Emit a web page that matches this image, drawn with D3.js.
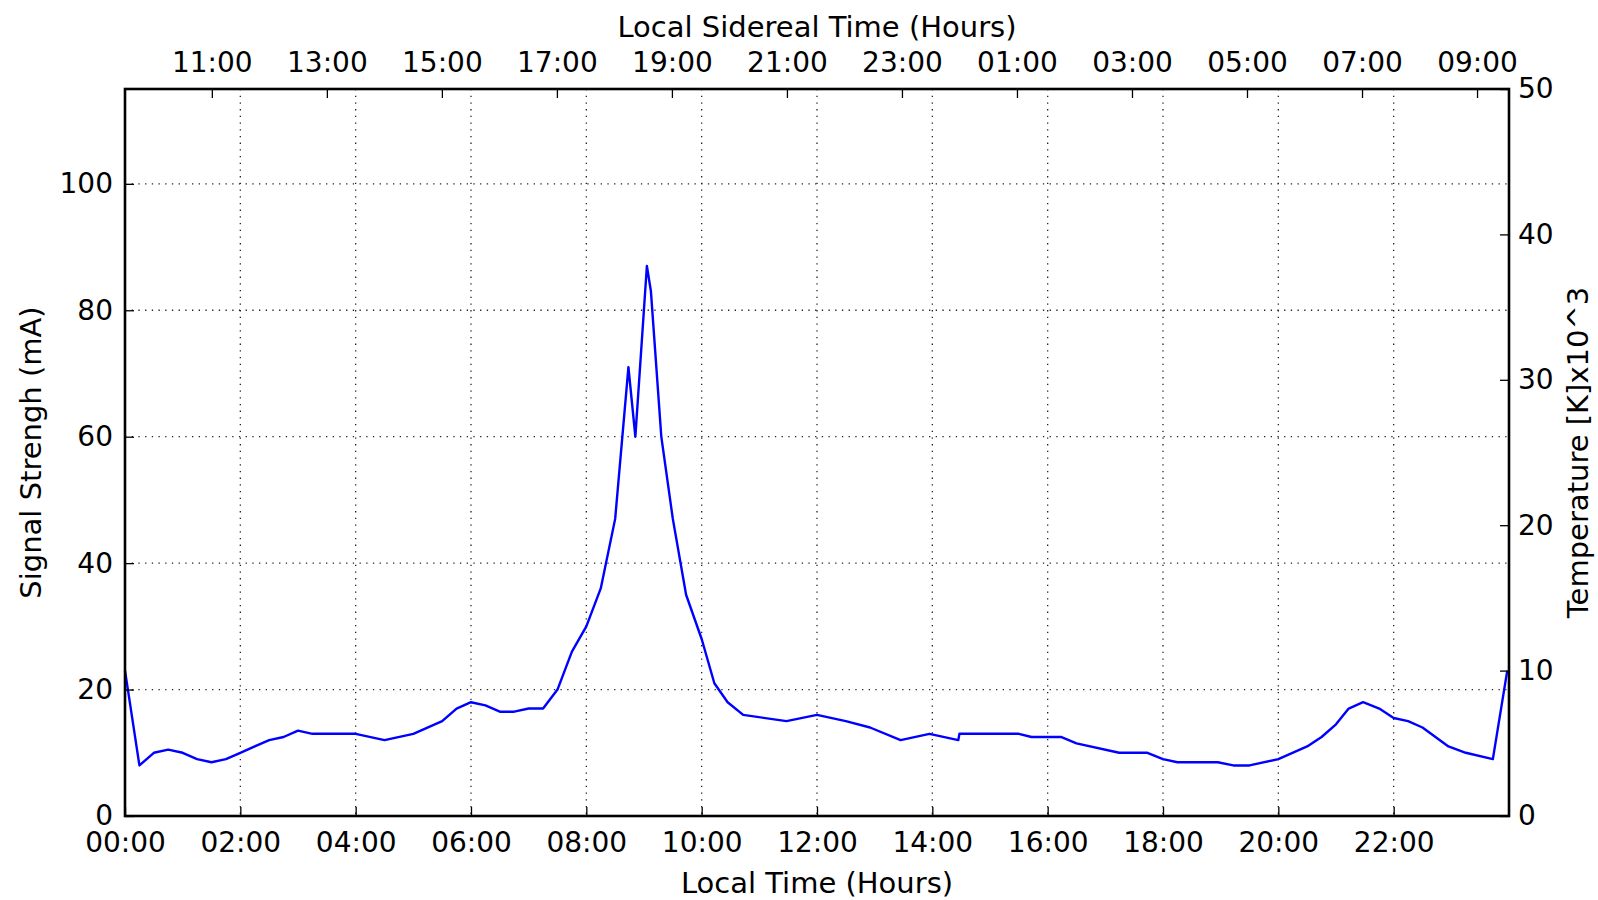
<!DOCTYPE html>
<html>
<head>
<meta charset="utf-8">
<script src="https://cdn.jsdelivr.net/npm/d3@7"></script>
<style>
  body { margin: 0; background: #fff; }
  svg text { font-family: "DejaVu Sans", sans-serif; fill: #000; }
</style>
</head>
<body>
<div id="chart"></div>
<script>
// Signal readings: local time in hours, signal strength in mA
const hours = [0.0, 0.25, 0.5, 0.75, 1.0, 1.25, 1.5, 1.75, 2.0, 2.25, 2.5, 2.75, 3.0, 3.25, 3.5, 4.0,
  4.5, 5.0, 5.5, 5.75, 6.0, 6.25, 6.5, 6.75, 7.0, 7.25, 7.5, 7.75, 8.0, 8.25, 8.5, 8.73, 8.85,
  9.05, 9.12, 9.3, 9.5, 9.73, 10.0, 10.22, 10.45, 10.72, 11.47, 12.0, 12.5, 12.92, 13.45, 13.95,
  14.45, 14.47, 15.5, 15.72, 16.23, 16.5, 17.24, 17.73, 18.0, 18.25, 18.95, 19.22, 19.5, 20.0,
  20.5, 20.75, 21.0, 21.22, 21.47, 21.75, 22.0, 22.25, 22.5, 22.95, 23.25, 23.72, 23.97];
const signal = [23, 8, 10, 10.5, 10, 9, 8.5, 9, 10, 11, 12, 12.5, 13.5, 13, 13, 13,
  12, 13, 15, 17, 18, 17.5, 16.5, 16.5, 17, 17, 20, 26, 30, 36, 47, 71, 60,
  87, 83, 60, 47, 35, 28, 21, 18, 16, 15, 16, 15, 14, 12, 13,
  12, 13, 13, 12.5, 12.5, 11.5, 10, 10, 9, 8.5, 8.5, 8, 8, 9,
  11, 12.5, 14.5, 17, 18, 17, 15.5, 15, 14, 11, 10, 9, 23];

const localTicks = [0, 2, 4, 6, 8, 10, 12, 14, 16, 18, 20, 22];
const siderealTicks = [11, 13, 15, 17, 19, 21, 23, 25, 27, 29, 31, 33];
const siderealOffset = 9.49;
const siderealRate = 1.00274;
const signalTicks = [0, 20, 40, 60, 80, 100];
const tempTicks = [0, 10, 20, 30, 40, 50];

const margin = { top: 89, right: 89, bottom: 84, left: 125 };
const width = 1598 - margin.left - margin.right;
const height = 900 - margin.top - margin.bottom;

const svg = d3.select("#chart")
  .append("svg")
  .attr("width", 1598)
  .attr("height", 900)
  .append("g")
  .attr("transform", `translate(${margin.left},${margin.top})`);

const x = d3.scaleLinear().domain([0, 24]).range([0, width]);
const y = d3.scaleLinear().domain([0, 115]).range([height, 0]);
const y2 = d3.scaleLinear().domain([0, 50]).range([height, 0]);

const hhmm = h => String(Math.round(h) % 24).padStart(2, "0") + ":00";
const fontSize = "29px";
const tickFont = "28px";

// grid
svg.append("g")
  .selectAll("line")
  .data(localTicks.slice(1))
  .join("line")
  .attr("x1", d => x(d)).attr("x2", d => x(d))
  .attr("y1", 0).attr("y2", height)
  .attr("stroke", "#222").attr("stroke-width", 1.3)
  .attr("stroke-dasharray", "1.3,5.4");
svg.append("g")
  .selectAll("line")
  .data(signalTicks.slice(1))
  .join("line")
  .attr("x1", 0).attr("x2", width)
  .attr("y1", d => y(d)).attr("y2", d => y(d))
  .attr("stroke", "#222").attr("stroke-width", 1.3)
  .attr("stroke-dasharray", "1.3,5.4");

// signal line
const line = d3.line()
  .x((d, i) => x(hours[i]))
  .y(d => y(d));
svg.append("path")
  .datum(signal)
  .attr("fill", "none")
  .attr("stroke", "#0000ff")
  .attr("stroke-width", 2.4)
  .attr("stroke-linejoin", "round")
  .attr("d", line);

// axes (ticks point inward)
const xAxisBottom = svg.append("g")
  .attr("transform", `translate(0,${height})`)
  .call(d3.axisBottom(x).tickValues(localTicks).tickFormat(hhmm).tickSizeInner(-9).tickSizeOuter(0).tickPadding(16));

// sidereal clock runs a little faster than the local one
const xTop = d3.scaleLinear()
  .domain([siderealOffset, siderealOffset + 24 * siderealRate])
  .range([0, width]);
const xAxisTop = svg.append("g")
  .call(d3.axisTop(xTop).tickValues(siderealTicks).tickFormat(hhmm).tickSizeInner(-9).tickSizeOuter(0).tickPadding(17));

const yAxisLeft = svg.append("g")
  .call(d3.axisLeft(y).tickValues(signalTicks).tickSizeInner(-9).tickSizeOuter(0).tickPadding(12));

const yAxisRight = svg.append("g")
  .attr("transform", `translate(${width},0)`)
  .call(d3.axisRight(y2).tickValues(tempTicks).tickSizeInner(-9).tickSizeOuter(0).tickPadding(9));

[xAxisBottom, xAxisTop, yAxisLeft, yAxisRight].forEach(g => {
  g.select(".domain").remove();
  g.selectAll(".tick line").attr("stroke", "#000").attr("stroke-width", 1.3);
  g.selectAll(".tick text").style("font-size", tickFont).style("font-family", "DejaVu Sans");
});

// frame
svg.append("rect")
  .attr("width", width)
  .attr("height", height)
  .attr("fill", "none")
  .attr("stroke", "#000")
  .attr("stroke-width", 2.6);

// axis titles
svg.append("text")
  .attr("text-anchor", "middle")
  .attr("x", width / 2)
  .attr("y", height + 77)
  .style("font-size", fontSize)
  .text("Local Time (Hours)");

svg.append("text")
  .attr("text-anchor", "middle")
  .attr("x", width / 2)
  .attr("y", -52)
  .style("font-size", fontSize)
  .text("Local Sidereal Time (Hours)");

svg.append("text")
  .attr("text-anchor", "middle")
  .attr("transform", "rotate(-90)")
  .attr("x", -height / 2)
  .attr("y", -84)
  .style("font-size", fontSize)
  .text("Signal Strengh (mA)");

svg.append("text")
  .attr("text-anchor", "middle")
  .attr("transform", "rotate(-90)")
  .attr("x", -height / 2)
  .attr("y", width + 79)
  .style("font-size", fontSize)
  .text("Temperature [K]x10^3");
</script>
</body>
</html>
